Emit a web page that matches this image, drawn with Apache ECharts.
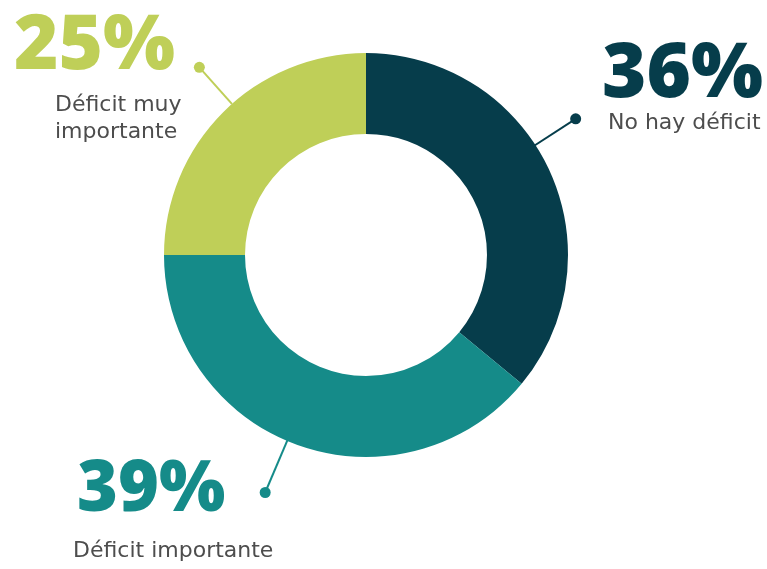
<!DOCTYPE html>
<html>
<head>
<meta charset="utf-8">
<script src="https://cdn.jsdelivr.net/npm/echarts@6/dist/echarts.min.js"></script>
<style>
html,body{margin:0;padding:0;background:#fff;}
#c{width:767px;height:569px;}
</style>
</head>
<body>
<div id="c"></div>
<script>
// ---- data ----
var categories = ['No hay déficit', 'Déficit importante', 'Déficit muy importante'];
var percentages = [36, 39, 25];
var colors = ['#063d4b', '#158b89', '#bfcf58'];

// ---- layout (annotation placement, not data) ----
var CX = 366, CY = 255, R_IN = 121, R_OUT = 202;
var labelCfg = [
  { x: 602, y: 40, pSize: 76, pLH: 70, pPad: 0, nPad: 6, wrap: false, leader: { a: 57, r0: 201, r1: 250 } },
  { x: 73, y: 445, pSize: 70, pLH: 93, pPad: 4, nPad: 0, wrap: false, leader: { a: 203, r0: 201, r1: 258 } },
  { x: 14, y: 3, pSize: 76, pLH: 89, pPad: 0, nPad: 41, wrap: true, leader: { a: 318.4, r0: 202, r1: 251 } }
];

function wrapName(name, wrap) {
  if (!wrap) return name;
  var words = name.split(' ');
  return words.slice(0, 2).join(' ') + '\n' + words.slice(2).join(' ');
}

var data = categories.map(function (name, i) {
  var cfg = labelCfg[i];
  return {
    name: name,
    value: percentages[i],
    itemStyle: { color: colors[i] },
    label: {
      formatter: '{p|' + percentages[i] + '%}\n{n|' + wrapName(name, cfg.wrap) + '}',
      rich: {
        p: { fontFamily: 'Open Sans', fontWeight: 800, fontSize: cfg.pSize, lineHeight: cfg.pLH, color: colors[i], padding: [0, 0, 0, cfg.pPad] },
        n: { fontFamily: 'DejaVu Sans', fontWeight: 'normal', fontSize: 22, lineHeight: 27, color: '#4d4d4d', padding: [0, 0, 0, cfg.nPad] }
      }
    }
  };
});

var graphics = [];
labelCfg.forEach(function (cfg, i) {
  var a = cfg.leader.a * Math.PI / 180;
  var sx = CX + Math.sin(a) * cfg.leader.r0, sy = CY - Math.cos(a) * cfg.leader.r0;
  var ex = CX + Math.sin(a) * cfg.leader.r1, ey = CY - Math.cos(a) * cfg.leader.r1;
  graphics.push({ type: 'line', shape: { x1: sx, y1: sy, x2: ex, y2: ey }, style: { stroke: colors[i], lineWidth: 2 }, z: 10 });
  graphics.push({ type: 'circle', shape: { cx: ex, cy: ey, r: 5.5 }, style: { fill: colors[i] }, z: 10 });
});

var chart = echarts.init(document.getElementById('c'), null, { renderer: 'canvas' });
chart.setOption({
  backgroundColor: '#ffffff',
  animation: false,
  graphic: graphics,
  series: [{
    type: 'pie',
    center: [CX, CY],
    radius: [R_IN, R_OUT],
    startAngle: 90,
    clockwise: true,
    avoidLabelOverlap: false,
    label: { show: true, position: 'outside' },
    labelLine: { show: false },
    emphasis: { disabled: true },
    labelLayout: function (params) {
      var cfg = labelCfg[params.dataIndex];
      return { x: cfg.x, y: cfg.y, align: 'left', verticalAlign: 'top' };
    },
    data: data
  }]
});
</script>
</body>
</html>
